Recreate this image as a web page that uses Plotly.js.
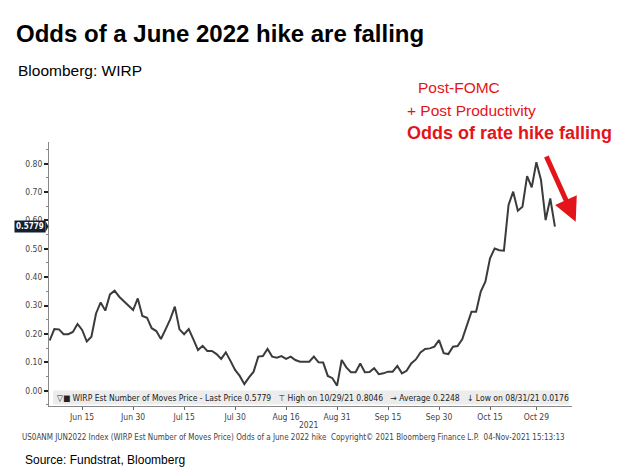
<!DOCTYPE html>
<html>
<head>
<meta charset="utf-8">
<script src="https://cdn.plot.ly/plotly-3.0.1.min.js"></script>
<style>html,body{margin:0;padding:0;background:#fff;}#chart{width:630px;height:474px;}</style>
</head>
<body>
<div id="chart"></div>
<script>
const dates = [
 '2021-06-04','2021-06-07','2021-06-08','2021-06-09','2021-06-10','2021-06-11','2021-06-14','2021-06-15','2021-06-16','2021-06-17','2021-06-18','2021-06-21','2021-06-22','2021-06-23','2021-06-24','2021-06-25','2021-06-28','2021-06-29','2021-06-30',
 '2021-07-01','2021-07-02','2021-07-05','2021-07-06','2021-07-07','2021-07-08','2021-07-09','2021-07-12','2021-07-13','2021-07-14','2021-07-15','2021-07-16','2021-07-19','2021-07-20','2021-07-21','2021-07-22','2021-07-23','2021-07-26','2021-07-27','2021-07-28','2021-07-29','2021-07-30',
 '2021-08-02','2021-08-03','2021-08-04','2021-08-05','2021-08-06','2021-08-09','2021-08-10','2021-08-11','2021-08-12','2021-08-13','2021-08-16','2021-08-17','2021-08-18','2021-08-19','2021-08-20','2021-08-23','2021-08-24','2021-08-25','2021-08-26','2021-08-27','2021-08-30','2021-08-31',
 '2021-09-01','2021-09-02','2021-09-03','2021-09-06','2021-09-07','2021-09-08','2021-09-09','2021-09-10','2021-09-13','2021-09-14','2021-09-15','2021-09-16','2021-09-17','2021-09-20','2021-09-21','2021-09-22','2021-09-23','2021-09-24','2021-09-27','2021-09-28','2021-09-29','2021-09-30',
 '2021-10-01','2021-10-04','2021-10-05','2021-10-06','2021-10-07','2021-10-08','2021-10-11','2021-10-12','2021-10-13','2021-10-14','2021-10-15','2021-10-18','2021-10-19','2021-10-20','2021-10-21','2021-10-22','2021-10-25','2021-10-26','2021-10-27','2021-10-28','2021-10-29',
 '2021-11-01','2021-11-02','2021-11-03','2021-11-04'
];
const wirpMoves = [
 0.177,0.217,0.216,0.199,0.199,0.207,0.235,0.214,0.173,0.190,0.272,0.311,0.282,0.339,0.352,0.331,0.315,0.300,0.284,
 0.325,0.263,0.257,0.220,0.210,0.182,0.216,0.251,0.296,0.216,0.199,0.217,0.181,0.143,0.158,0.140,0.140,0.129,0.112,0.135,0.105,0.073,
 0.052,0.023,0.047,0.067,0.120,0.122,0.147,0.120,0.116,0.122,0.112,0.120,0.108,0.102,0.102,0.102,0.120,0.100,0.099,0.052,0.044,0.0176,
 0.108,0.082,0.065,0.065,0.096,0.065,0.066,0.079,0.058,0.061,0.067,0.067,0.087,0.061,0.070,0.096,0.110,0.135,0.147,0.149,0.155,0.178,
 0.132,0.129,0.155,0.157,0.181,0.231,0.278,0.278,0.349,0.384,0.466,0.501,0.495,0.493,0.654,0.701,0.634,0.648,0.756,0.716,0.8046,
 0.742,0.601,0.677,0.5779
];
const xTickDates = ['2021-06-15','2021-06-30','2021-07-15','2021-07-30','2021-08-16','2021-08-31','2021-09-15','2021-09-30','2021-10-15','2021-10-29'];
const xTickLabels = ['Jun 15','Jun 30','Jul 15','Jul 30','Aug 16','Aug 31','Sep 15','Sep 30','Oct 15','Oct 29'];
const yTickVals = [0, 0.1, 0.2, 0.3, 0.4, 0.5, 0.6, 0.7, 0.8];
const lastPrice = 0.5779;

const sans = 'Liberation Sans, Arial, sans-serif';
const small = 'Liberation Sans Narrow, DejaVu Sans Condensed, Liberation Sans, Arial, sans-serif';
const red = '#e3151a';
const tagColor = '#14202f';

const trace = {
  x: dates, y: wirpMoves, type: 'scatter', mode: 'lines',
  line: {color: '#3b3b3b', width: 2}, hoverinfo: 'skip', showlegend: false
};

const layout = {
  width: 630, height: 474,
  margin: {l: 48.5, r: 58, t: 142, b: 68},
  paper_bgcolor: '#ffffff', plot_bgcolor: '#ffffff',
  showlegend: false,
  title: {
    text: '<b>Odds of a June 2022 hike are falling</b>',
    font: {family: sans, size: 24, color: '#000'},
    x: 16/630, xanchor: 'left', xref: 'container',
    y: 1 - 34/474, yanchor: 'middle', yref: 'container'
  },
  xaxis: {
    type: 'date',
    range: ['2021-06-03 20:24', '2021-11-09 16:30'],
    rangebreaks: [{pattern: 'day of week', bounds: [6, 1]}],
    tickmode: 'array', tickvals: xTickDates, ticktext: xTickLabels,
    ticks: 'outside', ticklen: 3, tickwidth: 1, tickcolor: '#666',
    tickfont: {family: small, size: 8.5, color: '#444'},
    showline: true, linecolor: '#888', linewidth: 1,
    showgrid: false, zeroline: false, fixedrange: true
  },
  yaxis: {
    range: [-0.054, 0.876],
    tickmode: 'array', tickvals: yTickVals,
    tickformat: '.2f',
    ticks: 'outside', ticklen: 4, tickwidth: 2, tickcolor: '#222',
    minor: {dtick: 0.05, tick0: 0.05, ticks: 'outside', ticklen: 2, tickwidth: 1, tickcolor: '#888', showgrid: false},
    tickfont: {family: small, size: 8.5, color: '#444'},
    showline: true, linecolor: '#888', linewidth: 1,
    showgrid: false, zeroline: false, fixedrange: true
  },
  shapes: [
    {type: 'rect', xref: 'paper', yref: 'paper', x0: 0.0076, x1: 0.994, y0: 0.006, y1: 0.0587,
     fillcolor: '#ececec', line: {width: 0}, layer: 'below'},
    {type: 'path', xref: 'paper', yref: 'y', xsizemode: 'pixel', ysizemode: 'pixel',
     xanchor: 0, yanchor: lastPrice, path: 'M-3.5,5.5 L-0.5,0 L-3.5,-5.5 Z',
     fillcolor: tagColor, line: {width: 0}, layer: 'above'}
  ],
  annotations: [
    {text: 'Bloomberg: WIRP', xref: 'paper', yref: 'paper', x: (18-48.5)/523.5, y: (406-70)/264, xshift: -3,
     xanchor: 'left', yanchor: 'middle', showarrow: false, font: {family: sans, size: 15.5, color: '#000'}},
    {text: 'Post-FOMC', xref: 'paper', yref: 'paper', x: (419-48.5)/523.5, y: (406-88)/264, xshift: -3,
     xanchor: 'left', yanchor: 'middle', showarrow: false, font: {family: sans, size: 15.5, color: red}},
    {text: '+ Post Productivity', xref: 'paper', yref: 'paper', x: (407-48.5)/523.5, y: (406-110)/264, xshift: -2,
     xanchor: 'left', yanchor: 'middle', showarrow: false, font: {family: sans, size: 15.5, color: red}},
    {text: '<b>Odds of rate hike falling</b>', xref: 'paper', yref: 'paper', x: (407-48.5)/523.5, y: (406-133)/264, xshift: -2,
     xanchor: 'left', yanchor: 'middle', showarrow: false, font: {family: sans, size: 18, color: red}},
    {text: '', xref: 'paper', yref: 'paper', x: (575.7-48.5)/523.5, y: (406-221.7)/264,
     showarrow: true, ax: -30, ay: -66.7, arrowcolor: red, arrowwidth: 5, arrowhead: 2, arrowsize: 0.95},
    {text: '<b>0.5779</b>', xref: 'paper', yref: 'y', x: 0, y: lastPrice, xanchor: 'right', yanchor: 'middle',
     xshift: -3, showarrow: false, bgcolor: tagColor, borderpad: 1,
     font: {family: small, size: 8, color: '#ffffff'}},
    {text: '▽■ WIRP Est Number of Moves Price - Last Price 0.5779   ⊤ High on 10/29/21 0.8046   → Average 0.2248   ↓ Low on 08/31/21 0.0176',
     xref: 'paper', yref: 'paper', x: (55-48.5)/523.5, y: (406-397.5)/264, xanchor: 'left', yanchor: 'middle',
     showarrow: false, font: {family: small, size: 8.5, color: '#222'}},
    {text: '2021', xref: 'paper', yref: 'paper', x: (309-48.5)/523.5, y: (406-425)/264,
     xanchor: 'center', yanchor: 'middle', showarrow: false, font: {family: small, size: 8.5, color: '#444'}},
    {text: 'US0ANM JUN2022 Index (WIRP Est Number of Moves Price) Odds of a June 2022 hike  Copyright© 2021 Bloomberg Finance L.P.  04-Nov-2021 15:13:13',
     xref: 'paper', yref: 'paper', x: (19.5-48.5)/523.5, y: (406-437)/264, xanchor: 'left', yanchor: 'middle',
     showarrow: false, font: {family: small, size: 8, color: '#444'}},
    {text: 'Source: Fundstrat, Bloomberg', xref: 'paper', yref: 'paper', x: (25-48.5)/523.5, y: (406-460)/264, xshift: -3,
     xanchor: 'left', yanchor: 'middle', showarrow: false, font: {family: sans, size: 12, color: '#000'}}
  ]
};

Plotly.newPlot('chart', [trace], layout, {staticPlot: true, displayModeBar: false});
</script>
</body>
</html>
